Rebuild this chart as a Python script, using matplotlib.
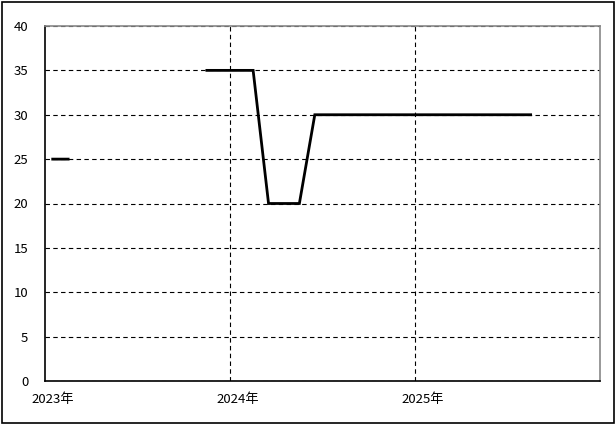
import matplotlib.pyplot as plt
import matplotlib.transforms as mtransforms
from matplotlib.patches import Rectangle
import numpy as np

plt.rcParams['font.family'] = ['Noto Sans CJK JP', 'DejaVu Sans']

# monthly values from 2023-01, nan = no data
months = np.arange(32)
values = [25, 25] + [np.nan] * 8 + [35, 35, 35, 35] + [20, 20, 20] + [30] * 15
year_ticks = [0, 12, 24]
year_labels = ['2023年', '2024年', '2025年']
y_ticks = [0, 5, 10, 15, 20, 25, 30, 35, 40]

fig = plt.figure(figsize=(6.15, 4.24), dpi=100)
ax = fig.add_axes([45 / 615, 43 / 424, 555 / 615, 355 / 424])

ax.plot(months + 0.5, values, color='black', linewidth=2, solid_joinstyle='miter')

ax.set_xlim(0, 36)
ax.set_ylim(0, 40)
ax.set_yticks(y_ticks)
ax.set_xticks(year_ticks[1:])
ax.set_xticklabels([])
ax.tick_params(axis='both', length=0, labelsize=9.5, colors='black')
ax.tick_params(axis='y', pad=12)

# year labels sit a little right of their ticks
offset = mtransforms.ScaledTranslation(8 / 100, -19 / 100, fig.dpi_scale_trans)
for t, lab in zip(year_ticks, year_labels):
    ax.text(t, 0, lab, transform=ax.get_xaxis_transform() + offset,
            ha='center', va='center', fontsize=9.5)

ax.grid(True, color='black', linestyle=(0, (4, 3)), linewidth=0.8)
ax.set_axisbelow(True)
for s in ['left', 'bottom']:
    ax.spines[s].set_color('black')
    ax.spines[s].set_linewidth(1.2)
for s in ['top', 'right']:
    ax.spines[s].set_color('#888888')
    ax.spines[s].set_linewidth(1.2)

fig.patches.append(Rectangle((1.5 / 615, 1.5 / 424), 612 / 615, 421 / 424,
                             transform=fig.transFigure, fill=False,
                             edgecolor='black', linewidth=1.2))

plt.savefig('out.png', dpi=100)
